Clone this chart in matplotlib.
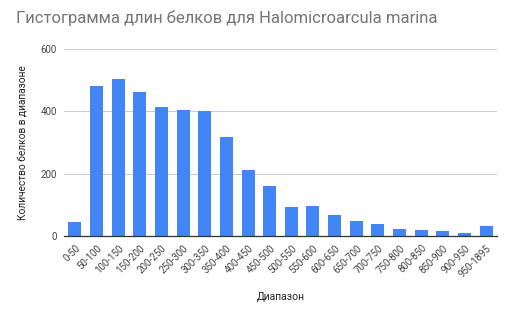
import matplotlib
matplotlib.use("Agg")
import matplotlib.pyplot as plt
import numpy as np

categories = ["0-50", "50-100", "100-150", "150-200", "200-250", "250-300", "300-350",
              "350-400", "400-450", "450-500", "500-550", "550-600", "600-650", "650-700",
              "700-750", "750-800", "800-850", "850-900", "900-950", "950-1895"]
counts = [46, 482, 504, 461, 413, 403, 402, 318, 211, 159, 93, 96, 66, 47, 38, 22, 19, 16, 10, 33]
yticks = [0, 200, 400, 600]

plt.rcParams['font.family'] = ['Roboto', 'DejaVu Sans']

fig = plt.figure(figsize=(5.12, 3.17), dpi=100)
ax = fig.add_axes([64/512, 1-236/317, (497-64)/512, (236-48.7)/317])

x = np.arange(len(categories))
ax.bar(x, counts, width=0.6, color='#4285F4', zorder=3)
ax.set_xlim(-0.5, len(categories)-0.5)
ax.set_ylim(0, 600)
ax.set_yticks(yticks)
ax.set_yticklabels([str(v) for v in yticks], fontsize=7, color='#444444')
ax.set_xticks(x)
ax.set_xticklabels(categories, rotation=45, ha='right', rotation_mode='anchor', fontsize=7, color='#444444')
ax.tick_params(axis='both', length=0, pad=5)
ax.grid(axis='y', color='#cccccc', linewidth=0.8, zorder=0)
for s in ['top', 'right', 'left']:
    ax.spines[s].set_visible(False)
ax.spines['bottom'].set_color('#333333')
ax.spines['bottom'].set_linewidth(0.9)
ax.spines['bottom'].set_zorder(4)

ax.set_ylabel('Количество белков в диапазоне', fontsize=7.3, color='#222222', labelpad=9)
ax.set_xlabel('Диапазон', fontsize=7.5, color='#222222', labelpad=9)
fig.text(16/512, 1-18/317, 'Гистограмма длин белков для Halomicroarcula marina',
         fontsize=12, color='#757575', ha='left', va='center')

fig.savefig('out.png', dpi=100)
